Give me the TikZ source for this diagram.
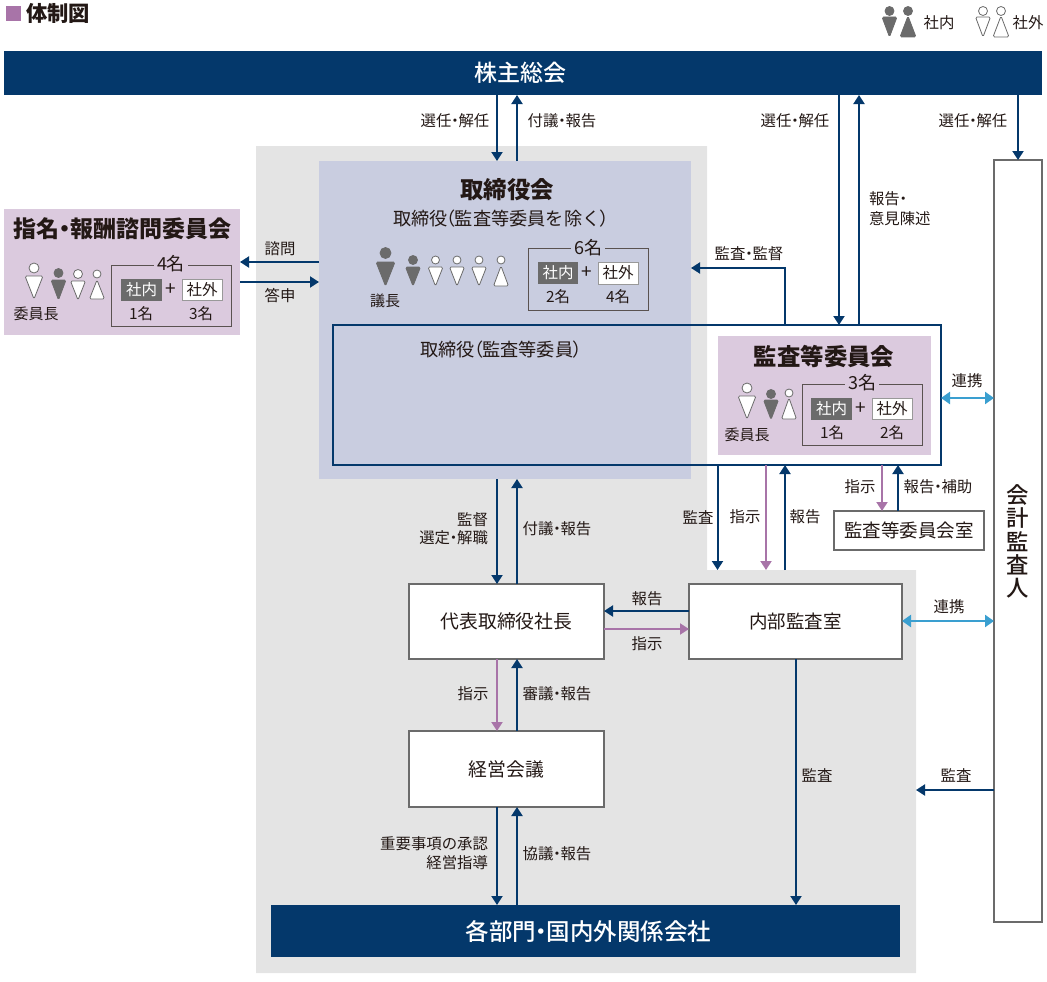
\documentclass[tikz,border=0pt]{standalone}
\usepackage{fontspec}
\setmainfont{Noto Sans CJK JP}
\newfontfamily\jpm{Noto Sans CJK JP Medium}
\usetikzlibrary{arrows.meta,calc}
\definecolor{navy}{HTML}{04386B}
\definecolor{purp}{HTML}{A874A8}
\definecolor{cyanc}{HTML}{3A9FD0}
\definecolor{greybg}{HTML}{E4E4E4}
\definecolor{bluep}{HTML}{C9CDE0}
\definecolor{lilac}{HTML}{DBCADE}
\definecolor{ink}{HTML}{231815}
\definecolor{fig}{HTML}{6B6B6B}
\newcommand\fs[1]{\fontsize{#1}{#1}\selectfont}
\newcommand\dt{\hspace{-.27em}・\hspace{-.27em}}
\newcommand\lp{\hspace{-.55em}（\hspace{-.05em}}
\newcommand\rp{\hspace{-.05em}）\hspace{-.35em}}
% x, head y, head r, body top, body bottom, half width, colour, line colour
\newcommand\manfig[8]{%
  \draw[draw=#8,fill=#7,line width=.8pt,line join=round] (#1,#2) circle[radius=#3];
  \draw[draw=#8,fill=#7,line width=.8pt,line join=round,rounded corners=1.5pt] (#1-#6,#4) -- (#1+#6,#4) -- (#1,#5) -- cycle;}
\newcommand\womanfig[8]{%
  \draw[draw=#8,fill=#7,line width=.8pt] (#1,#2) circle[radius=#3];
  \draw[draw=#8,fill=#7,line width=.8pt,line join=round,rounded corners=1.5pt] (#1,#4) -- (#1+#6,#5) -- (#1-#6,#5) -- cycle;}
\tikzset{
  lbl/.style={text=ink,font=\fs{15.4},inner sep=0pt,outer sep=0pt},
  rect/.style={anchor=north west,inner sep=0pt,outer sep=0pt,align=center},
  navybar/.style={rect,fill=navy,text=white},
  whitebox/.style={rect,fill=white,draw=fig,line width=2pt,text=ink},
  na/.style={navy,line width=2pt,-{Triangle[length=9pt,width=11pt]}},
  pa/.style={purp,line width=2pt,-{Triangle[length=9pt,width=11pt]}},
  ca/.style={cyanc,line width=2.4pt,{Triangle[length=9pt,width=12pt]}-{Triangle[length=9pt,width=12pt]}},
  cnt/.style={rect,draw=ink!75,line width=.9pt},
  inbox/.style={rect,fill=fig,text=white,font=\fs{15.5}},
  outbox/.style={rect,fill=white,draw=black!40,line width=1pt,text=ink,font=\fs{15.5}},
  num/.style={lbl,font=\fs{15.4}},
  ttl/.style={lbl,font=\bfseries\fs{23.4}},
  sub/.style={lbl,font=\fs{18.2}},
}
\begin{document}
\begin{tikzpicture}[x=1pt,y=-1pt]
\useasboundingbox (0,0) rectangle (1047,982);
% backgrounds
\fill[greybg] (256,146) -- (707,146) -- (707,570) -- (916,570) -- (916,973) -- (256,973) -- cycle;
\node[rect,fill=bluep,minimum width=372pt,minimum height=318pt] (board) at (319,161) {};
% heading + legend
\node[rect,fill=purp,minimum width=15pt,minimum height=15pt] (sq) at (6,6) {};
\node[lbl,anchor=west,font=\bfseries\fs{21.3}] (title) at (26,13) {体制図};
\manfig{889.5}{11}{4.5}{17}{37}{7.5}{fig}{fig}
\womanfig{908}{11}{4.5}{16}{37}{8}{fig}{fig}
\node[lbl] (leg1) at (939,23) {社内};
\manfig{983}{11}{4.5}{17}{37}{7.5}{white}{fig}
\womanfig{1001}{11}{4.5}{16}{37}{8}{white}{fig}
\node[lbl] (leg2) at (1028,23) {社外};
% main boxes
\node[navybar,minimum width=1038pt,minimum height=44pt,font=\jpm\fs{23}] (top) at (4,51) {\hspace{-5pt}株主総会};
\node[navybar,minimum width=629pt,minimum height=52pt,font=\jpm\fs{23.5}] (dept) at (271,905) {\hspace{6pt}各部門\dt 国内外関係会社};
\node[whitebox,minimum width=48pt,minimum height=762pt,font=\jpm\fs{22.4},text width=48pt] (auditor) at (994,160) {\baselineskip=23.5pt 会\\計\\監\\査\\人};
\node[whitebox,minimum width=195pt,minimum height=75pt,font=\fs{18.8}] (pres) at (409,584) {代表取締役社長};
\node[whitebox,minimum width=213pt,minimum height=75pt,font=\fs{18.5}] (office) at (689,584) {内部監査室};
\node[whitebox,minimum width=195pt,minimum height=76pt,font=\fs{18.8}] (mgmt) at (409,731) {経営会議};
\node[whitebox,minimum width=150pt,minimum height=39pt,font=\fs{18.5}] (aoffice) at (834,511) {監査等委員会室};
% nomination committee
\node[rect,fill=lilac,minimum width=236pt,minimum height=126pt] (nom) at (4,209) {};
\node[ttl,font=\bfseries\fs{23}] (nomt) at (122.5,229) {指名\dt 報酬諮問委員会};
\manfig{34}{268}{5}{276}{299}{9}{white}{fig}
\manfig{58.5}{273}{4.5}{280}{300}{7.5}{fig}{fig}
\manfig{78}{274}{4.5}{281}{300}{7.5}{white}{fig}
\womanfig{97}{274}{4}{280}{299}{7.5}{white}{fig}
\node[lbl,font=\fs{15}] (noml) at (36,314) {委員長};
\node[cnt,minimum width=120pt,minimum height=61pt] (nomc) at (111,265) {};
\node[lbl,fill=lilac,inner sep=3pt,font=\fs{18}] (nomn) at (171,264) {4名};
\node[inbox,minimum width=41pt,minimum height=22pt] (nomi) at (121,279) {社内};
\node[lbl,font=\fs{19}] (nomp) at (171,290) {+};
\node[outbox,minimum width=40pt,minimum height=21pt] (nomo) at (182,279) {社外};
\node[num] (nom1) at (141,314) {1名};
\node[num] (nom3) at (201,314) {3名};
% board
\node[ttl] (boardt) at (507,190) {取締役会};
\node[sub] (boards) at (505.5,219) {取締役\lp 監査等委員を除く\rp};
\manfig{385.5}{253}{5.5}{262}{286}{9.5}{fig}{fig}
\manfig{413}{260}{4.5}{267}{286}{7.5}{fig}{fig}
\manfig{435.5}{260}{4}{267}{286}{7.5}{white}{fig}
\manfig{457}{260}{4}{267}{286}{7.5}{white}{fig}
\manfig{479}{260}{4}{267}{286}{7.5}{white}{fig}
\womanfig{501}{260}{4}{266}{286}{7.5}{white}{fig}
\node[lbl,font=\fs{15}] (boardl) at (385,301) {議長};
\node[cnt,minimum width=120pt,minimum height=62pt] (boardc) at (528,248) {};
\node[lbl,fill=bluep,inner sep=3pt,font=\fs{18}] (boardn) at (588,248) {6名};
\node[inbox,minimum width=40pt,minimum height=22pt] (boardi) at (538,262) {社内};
\node[lbl,font=\fs{19}] (boardp) at (587,273) {+};
\node[outbox,minimum width=40pt,minimum height=22pt] (boardo) at (598,262) {社外};
\node[num] (board2) at (558,297) {2名};
\node[num] (board4) at (618,297) {4名};
% audit frame
\node[rect,draw=navy,line width=1.7pt,minimum width=608pt,minimum height=140pt] (frame) at (333,325) {};
\node[sub] (frames) at (505.5,350) {取締役\lp 監査等委員\rp};
\node[rect,fill=lilac,minimum width=213pt,minimum height=119pt] (aud) at (718,336) {};
\node[ttl] (audt) at (824,357) {監査等委員会};
\manfig{747}{388}{5}{396}{419}{9}{white}{fig}
\manfig{771}{394}{4.5}{400}{419.5}{7.5}{fig}{fig}
\womanfig{789}{393}{4}{398}{419}{7.5}{white}{fig}
\node[lbl,font=\fs{15}] (audl) at (747,435) {委員長};
\node[cnt,minimum width=120pt,minimum height=61pt] (audc) at (802,384) {};
\node[lbl,fill=lilac,inner sep=3pt,font=\fs{18}] (audn) at (862,383) {3名};
\node[inbox,minimum width=41pt,minimum height=22pt] (audi) at (811,398) {社内};
\node[lbl,font=\fs{19}] (audp) at (861,409) {+};
\node[outbox,minimum width=40pt,minimum height=21pt] (audo) at (872,398) {社外};
\node[num] (aud1) at (832,433) {1名};
\node[num] (aud2) at (892,433) {2名};
% column / row guides
\coordinate (c1) at (497,0); \coordinate (c2) at (517,0);
\coordinate (c3) at (839,0); \coordinate (c4) at (859,0);
\coordinate (c5) at (1018,0); \coordinate (c6) at (785,0);
\coordinate (c7) at (717.5,0); \coordinate (c8) at (766,0);
\coordinate (c9) at (882,0); \coordinate (c10) at (898,0);
\coordinate (c11) at (796,0); \coordinate (c12) at (916,0);
\coordinate (r1) at (0,262); \coordinate (r2) at (0,282);
\coordinate (r3) at (0,268); \coordinate (r4) at (0,398);
\coordinate (r5) at (0,570); \coordinate (r6) at (0,611);
\coordinate (r7) at (0,629); \coordinate (r8) at (0,621);
\coordinate (r9) at (0,790);
% connectors
\draw[na] (c1 |- top.south) -- (c1 |- board.north);
\draw[na] (c2 |- board.north) -- (c2 |- top.south);
\draw[na] (c3 |- top.south) -- (c3 |- frame.north);
\draw[na] (c4 |- frame.north) -- (c4 |- top.south);
\draw[na] (c5 |- top.south) -- (c5 |- auditor.north);
\draw[na] (board.west |- r1) -- (nom.east |- r1);
\draw[na] (nom.east |- r2) -- (board.west |- r2);
\draw[na] (c6 |- frame.north) |- (board.east |- r3);
\draw[ca] (frame.east |- r4) -- (auditor.west |- r4);
\draw[na] (c7 |- frame.south) -- (c7 |- r5);
\draw[pa] (c8 |- frame.south) -- (c8 |- r5);
\draw[na] (c6 |- r5) -- (c6 |- frame.south);
\draw[pa] (c9 |- frame.south) -- (c9 |- aoffice.north);
\draw[na] (c10 |- aoffice.north) -- (c10 |- frame.south);
\draw[na] (c1 |- board.south) -- (c1 |- pres.north);
\draw[na] (c2 |- pres.north) -- (c2 |- board.south);
\draw[na] (office.west |- r6) -- (pres.east |- r6);
\draw[pa] (pres.east |- r7) -- (office.west |- r7);
\draw[ca] (office.east |- r8) -- (auditor.west |- r8);
\draw[pa] (c1 |- pres.south) -- (c1 |- mgmt.north);
\draw[na] (c2 |- mgmt.north) -- (c2 |- pres.south);
\draw[na] (c1 |- mgmt.south) -- (c1 |- dept.north);
\draw[na] (c2 |- dept.north) -- (c2 |- mgmt.south);
\draw[na] (c11 |- office.south) -- (c11 |- dept.north);
\draw[na] (auditor.west |- r9) -- (c12 |- r9);
% connector labels
\node[lbl] (a1) at (455,121) {選任\dt 解任};
\node[lbl] (a2) at (562,121) {付議\dt 報告};
\node[lbl] (a3) at (795,121) {選任\dt 解任};
\node[lbl] (a4) at (973,121) {選任\dt 解任};
\node[lbl,anchor=west] (a5) at (869,199) {報告\dt};
\node[lbl,anchor=west] (a6) at (869,219) {意見陳述};
\node[lbl] (a7) at (749,254) {監査\dt 監督};
\node[lbl] (a8) at (280,249) {諮問};
\node[lbl] (a9) at (280,296) {答申};
\node[lbl] (a10) at (967,381) {連携};
\node[lbl] (a11) at (860,487) {指示};
\node[lbl] (a12) at (938,487) {報告\dt 補助};
\node[lbl] (a13) at (698,517) {監査};
\node[lbl] (a14) at (745,517) {指示};
\node[lbl] (a15) at (805,517) {報告};
\node[lbl,anchor=east] (a16) at (488,520) {監督};
\node[lbl,anchor=east] (a17) at (488,538) {選定\dt 解職};
\node[lbl] (a18) at (557,529) {付議\dt 報告};
\node[lbl] (a19) at (647,599) {報告};
\node[lbl] (a20) at (647,644) {指示};
\node[lbl] (a21) at (949,607) {連携};
\node[lbl] (a22) at (473,694) {指示};
\node[lbl] (a23) at (557,694) {審議\dt 報告};
\node[lbl] (a24) at (817,775) {監査};
\node[lbl] (a25) at (956,775) {監査};
\node[lbl,anchor=east] (a26) at (488,844) {重要事項の承認};
\node[lbl,anchor=east] (a27) at (488,863) {経営指導};
\node[lbl] (a28) at (557,854) {協議\dt 報告};
\end{tikzpicture}
\end{document}
